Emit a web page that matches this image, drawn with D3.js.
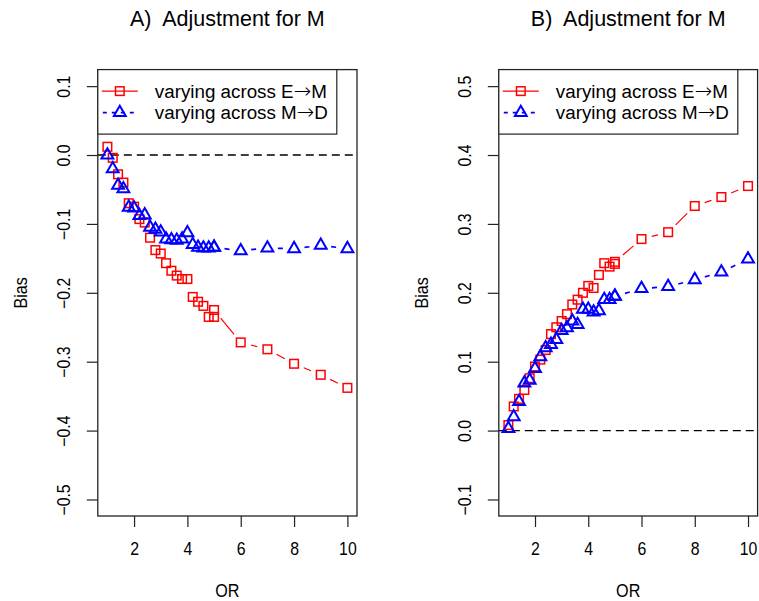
<!DOCTYPE html>
<html>
<head>
<meta charset="utf-8">
<script src="https://cdn.jsdelivr.net/npm/d3@7"></script>
<style>
  html, body { margin: 0; padding: 0; background: #fff; }
  svg text { font-family: "Liberation Sans", Arial, Helvetica, sans-serif; fill: #000; white-space: pre; }
</style>
</head>
<body>
<svg id="chart" width="759" height="601"></svg>
<script>
// Odds ratios: fine grid 1.0–5.0 by 0.2, then coarse grid 5–10
const orValues = [1.0, 1.2, 1.4, 1.6, 1.8, 2.0, 2.2, 2.4, 2.6, 2.8, 3.0, 3.2, 3.4, 3.6, 3.8,
                  4.0, 4.2, 4.4, 4.6, 4.8, 5.0, 5, 6, 7, 8, 9, 10];

// Panel A: bias after adjustment for M
const biasA_EM = [0.012, -0.004, -0.028, -0.040, -0.070, -0.075, -0.093, -0.098, -0.120, -0.138,
                  -0.143, -0.157, -0.168, -0.175, -0.180, -0.180, -0.206, -0.213, -0.219, -0.235,
                  -0.235, -0.225, -0.272, -0.282, -0.303, -0.319, -0.338];
const biasA_MD = [0.000, -0.020, -0.044, -0.049, -0.076, -0.077, -0.088, -0.087, -0.105, -0.108,
                  -0.112, -0.122, -0.123, -0.124, -0.122, -0.113, -0.130, -0.134, -0.135, -0.135,
                  -0.134, -0.134, -0.139, -0.135, -0.136, -0.131, -0.136];

// Panel B: bias after adjustment for M
const biasB_EM = [0.008, 0.035, 0.046, 0.059, 0.076, 0.093, 0.103, 0.117, 0.140, 0.150,
                  0.159, 0.169, 0.183, 0.190, 0.200, 0.210, 0.207, 0.226, 0.243, 0.238,
                  0.242, 0.245, 0.278, 0.288, 0.326, 0.339, 0.355];
const biasB_MD = [0.003, 0.020, 0.042, 0.069, 0.073, 0.090, 0.107, 0.120, 0.125, 0.132,
                  0.145, 0.149, 0.159, 0.154, 0.176, 0.176, 0.172, 0.174, 0.190, 0.190,
                  0.195, 0.195, 0.206, 0.209, 0.219, 0.230, 0.249];

const panelTitles = ["A)  Adjustment for M", "B)  Adjustment for M"];
const legendLabels = [["varying across E", "\u2192", "M"], ["varying across M", "\u2192", "D"]];
const xTicks = [2, 4, 6, 8, 10];
const yTicksA = [-0.5, -0.4, -0.3, -0.2, -0.1, 0.0, 0.1];
const yTicksB = [-0.1, 0.0, 0.1, 0.2, 0.3, 0.4, 0.5];
const xLabel = "OR";
const yLabel = "Bias";

const svg = d3.select("#chart");
svg.append("rect").attr("width", 759).attr("height", 601).attr("fill", "#fff");

// R-style axis range: data limits padded by 4% on each side
function padded(lo, hi) {
  const d = (hi - lo) * 0.04;
  return [lo - d, hi + d];
}

const panels = [
  { left: 97.8, right: 357, top: 69.6, bottom: 516, title: panelTitles[0],
    yTicks: yTicksA, series: [biasA_EM, biasA_MD] },
  { left: 498.8, right: 757.6, top: 69.6, bottom: 516, title: panelTitles[1],
    yTicks: yTicksB, series: [biasB_EM, biasB_MD] }
];

const styles = [
  { color: "#ff0000", shape: "square", lineWidth: 1.2, dash: null },
  { color: "#0000ff", shape: "triangle", lineWidth: 1.7, dash: "5,4" }
];

function drawMarker(g, shape, cx, cy, color) {
  if (shape === "square") {
    const s = 8.6;
    g.append("rect").attr("x", cx - s / 2).attr("y", cy - s / 2)
      .attr("width", s).attr("height", s)
      .attr("fill", "none").attr("stroke", color).attr("stroke-width", 1.5);
  } else {
    const xc = 4.4, r = 1.555 * xc, h = 1.347 * xc, yc = 0.778 * xc;
    g.append("path")
      .attr("d", `M${cx},${cy - r}L${cx + h},${cy + yc}L${cx - h},${cy + yc}Z`)
      .attr("fill", "none").attr("stroke", color).attr("stroke-width", 2)
      .attr("stroke-linejoin", "miter");
  }
}

// Type "b" lines: segments between points with a gap around each marker
function drawGappedLine(g, pts, st, gap) {
  for (let i = 0; i < pts.length - 1; i++) {
    const [x1, y1] = pts[i], [x2, y2] = pts[i + 1];
    const dx = x2 - x1, dy = y2 - y1, len = Math.hypot(dx, dy);
    if (len <= 2 * gap) continue;
    const ux = dx / len, uy = dy / len;
    const seg = g.append("line")
      .attr("x1", x1 + ux * gap).attr("y1", y1 + uy * gap)
      .attr("x2", x2 - ux * gap).attr("y2", y2 - uy * gap)
      .attr("stroke", st.color).attr("stroke-width", st.lineWidth);
    if (st.dash) seg.attr("stroke-dasharray", st.dash);
  }
}

panels.forEach(p => {
  const x = d3.scaleLinear()
    .domain(padded(d3.min(orValues), d3.max(orValues)))
    .range([p.left, p.right]);
  const y = d3.scaleLinear()
    .domain(padded(d3.min(p.yTicks), d3.max(p.yTicks)))
    .range([p.bottom, p.top]);

  const g = svg.append("g");

  // reference line at zero bias
  g.append("line")
    .attr("x1", p.left).attr("x2", p.right)
    .attr("y1", y(0)).attr("y2", y(0))
    .attr("stroke", "#000").attr("stroke-width", 1.3)
    .attr("stroke-dasharray", "8,5");

  // series
  p.series.forEach((vals, si) => {
    const st = styles[si];
    const pts = vals.map((v, i) => [x(orValues[i]), y(v)]);
    drawGappedLine(g, pts, st, 10.5);
    pts.forEach(([px, py]) => drawMarker(g, st.shape, px, py, st.color));
  });

  // x axis
  const xa = g.append("g").attr("transform", `translate(0,${p.bottom})`)
    .call(d3.axisBottom(x).tickValues(xTicks).tickSize(11).tickFormat(d3.format("d")));
  xa.select(".domain").remove();
  xa.selectAll(".tick line").attr("stroke", "#222").attr("stroke-width", 1.2);
  xa.selectAll(".tick text")
    .attr("y", null).attr("dy", "0.35em")
    .attr("transform", "translate(0,33) scale(0.88,1)")
    .attr("font-size", 18).attr("font-family", null).attr("fill", "#111");

  // y axis with labels parallel to the axis
  const ya = g.append("g").attr("transform", `translate(${p.left},0)`)
    .call(d3.axisLeft(y).tickValues(p.yTicks).tickSize(11)
      .tickFormat(d => d3.format(".1f")(d).replace("-", "\u2212")));
  ya.select(".domain").remove();
  ya.selectAll(".tick line").attr("stroke", "#222").attr("stroke-width", 1.2);
  ya.selectAll(".tick text")
    .attr("x", null).attr("y", null).attr("dy", "0.35em")
    .attr("text-anchor", "middle")
    .attr("transform", "translate(-34,0) rotate(-90) scale(0.88,1)")
    .attr("font-size", 18).attr("font-family", null).attr("fill", "#111");

  // plot frame
  g.append("rect")
    .attr("x", p.left).attr("y", p.top)
    .attr("width", p.right - p.left).attr("height", p.bottom - p.top)
    .attr("fill", "none").attr("stroke", "#222").attr("stroke-width", 1.3);

  // legend
  const lg = g.append("g").attr("transform", `translate(${p.left},${p.top})`);
  lg.append("rect").attr("x", 0).attr("y", 0).attr("width", 239).attr("height", 64.5)
    .attr("fill", "#fff").attr("stroke", "#222").attr("stroke-width", 1.2);
  legendLabels.forEach((parts, i) => {
    const st = styles[i];
    const ry = 21.5 + i * 21.5;
    const ln = lg.append("line").attr("x1", 4).attr("x2", 40).attr("y1", ry).attr("y2", ry)
      .attr("stroke", st.color).attr("stroke-width", st.lineWidth);
    if (st.dash) ln.attr("stroke-dasharray", "4,5").attr("stroke-dashoffset", -1);
    drawMarker(lg, st.shape, 22, ry, st.color);
    const t = lg.append("text").attr("x", 57).attr("y", ry).attr("dy", "0.35em")
      .attr("font-size", 18.8);
    t.append("tspan").text(parts[0]);
    t.append("tspan").attr("font-family", "DejaVu Sans").attr("font-weight", 200)
      .attr("font-size", 21).text(parts[1]);
    t.append("tspan").text(parts[2]);
  });

  // titles and axis labels
  const cx = (p.left + p.right) / 2;
  svg.append("text").attr("x", cx).attr("y", 18).attr("dy", "0.35em")
    .attr("text-anchor", "middle").attr("font-size", 21.5).text(p.title);
  svg.append("text").attr("transform", `translate(${cx},590) scale(0.85,1)`)
    .attr("dy", "0.35em")
    .attr("text-anchor", "middle").attr("font-size", 19).text(xLabel);
  svg.append("text")
    .attr("transform", `translate(${p.left - 77},${(p.top + p.bottom) / 2}) rotate(-90) scale(0.85,1)`)
    .attr("dy", "0.35em").attr("text-anchor", "middle").attr("font-size", 19).text(yLabel);
});
</script>
</body>
</html>
